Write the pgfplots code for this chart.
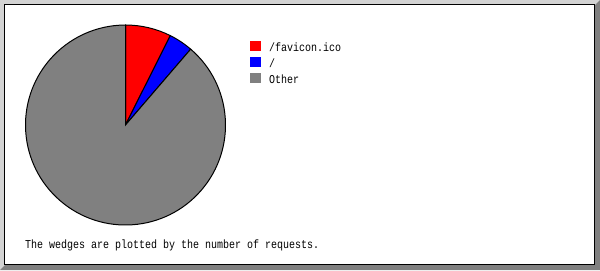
\documentclass[border=0pt]{standalone}
\usepackage{pgfplots}
\pgfplotsset{compat=1.18}
\usepackage{pgfplotstable}
\usepackage{graphicx}
\usepackage{fontspec}
\setmainfont{Liberation Mono}
\definecolor{bevlight}{RGB}{211,211,211}
\definecolor{bevdark}{RGB}{128,128,128}
\definecolor{wedgered}{RGB}{255,0,0}
\definecolor{wedgeblue}{RGB}{0,0,255}
\definecolor{wedgegray}{RGB}{128,128,128}
\pgfplotstableread{
label value
favicon 74
slash 39
other 887
}\piedata
\begin{document}
\begin{tikzpicture}
\pgfplotstablegetelem{0}{value}\of\piedata \let\va\pgfplotsretval
\pgfplotstablegetelem{1}{value}\of\piedata \let\vb\pgfplotsretval
\pgfplotstablegetelem{2}{value}\of\piedata \let\vc\pgfplotsretval
\pgfmathsetmacro\total{\va+\vb+\vc}
\pgfmathsetmacro\aa{90-360*(\va/\total)}
\pgfmathsetmacro\ab{\aa-360*(\vb/\total)}
\begin{axis}[width=600bp,height=270bp,scale only axis,
  xmin=0,xmax=600,ymin=0,ymax=270,y dir=reverse,hide axis,clip=false]
% frame
\fill[bevlight] (axis cs:0,0) rectangle (axis cs:600,270);
\fill[bevdark] (axis cs:600,0) -- (axis cs:600,270) -- (axis cs:0,270) -- (axis cs:5,265) -- (axis cs:595,265) -- (axis cs:595,5) -- cycle;
\fill[white] (axis cs:4,4) rectangle (axis cs:595,265);
\draw[black,line width=1bp] (axis cs:4.5,4.5) rectangle (axis cs:594.5,264.5);
% wedges
\filldraw[fill=wedgered,draw=black,line width=1bp] (axis cs:125.5,125) -- ++(90:100bp) arc[start angle=90,end angle=\aa,radius=100bp] -- cycle;
\filldraw[fill=wedgeblue,draw=black,line width=1bp] (axis cs:125.5,125) -- ++(\aa:100bp) arc[start angle=\aa,end angle=\ab,radius=100bp] -- cycle;
\filldraw[fill=wedgegray,draw=black,line width=1bp] (axis cs:125.5,125) -- ++(\ab:100bp) arc[start angle=\ab,end angle=-270,radius=100bp] -- cycle;
% legend
\fill[wedgered] (axis cs:250,41) rectangle (axis cs:261,51);
\fill[wedgeblue] (axis cs:250,57) rectangle (axis cs:261,67);
\fill[wedgegray] (axis cs:250,73) rectangle (axis cs:261,83);
\node[anchor=base west,inner sep=0pt,font=\fontsize{10bp}{12bp}\selectfont] at (axis cs:269,51) {\scalebox{1}[1.2]{/favicon.ico}};
\node[anchor=base west,inner sep=0pt,font=\fontsize{10bp}{12bp}\selectfont] at (axis cs:269,67) {\scalebox{1}[1.2]{/}};
\node[anchor=base west,inner sep=0pt,font=\fontsize{10bp}{12bp}\selectfont] at (axis cs:269,83) {\scalebox{1}[1.2]{Other}};
\node[anchor=base west,inner sep=0pt,font=\fontsize{10bp}{12bp}\selectfont] at (axis cs:25,248) {\scalebox{1}[1.2]{The wedges are plotted by the number of requests.}};
\end{axis}
\pgfresetboundingbox
\path[use as bounding box] (current axis.south west) rectangle (current axis.north east);
\end{tikzpicture}
\end{document}
